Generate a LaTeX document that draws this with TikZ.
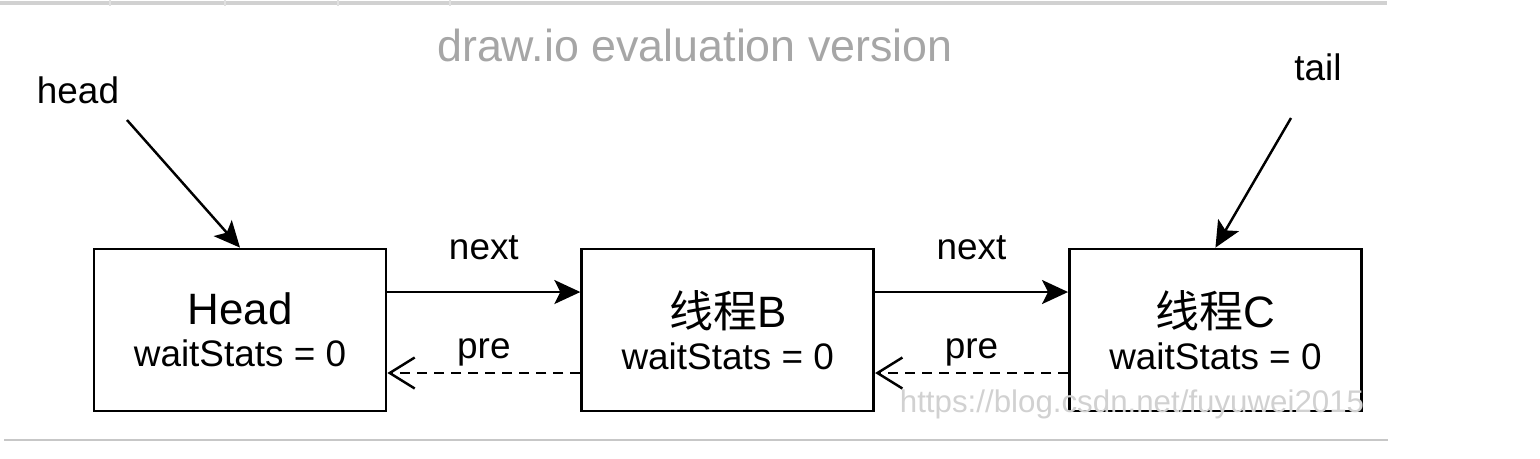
\documentclass[tikz,border=0pt]{standalone}
\usepackage{fontspec}
\setmainfont{Liberation Sans}
\newfontfamily\cjk{Noto Sans CJK SC}
\usetikzlibrary{positioning,arrows.meta}

\newcommand{\bigtxt}{\fontsize{25}{28}\selectfont}
\newcommand{\smalltxt}{\fontsize{21}{24}\selectfont}

\begin{document}
\begin{tikzpicture}[x=0.02cm,y=-0.02cm]
  \useasboundingbox (0,0) rectangle (1540,458);
  % window frame
  \draw[black!18,line width=2.4pt] (0,3) -- (1387,3);
  \foreach \sx in {110,225,338,450}
    \draw[black!12,line width=0.6pt] (\sx,0) -- (\sx,6);
  \draw[black!22,line width=1.4pt] (4,440) -- (1388,440);
  \node[text=black!35,font=\fontsize{25.5}{28}\selectfont] (drawio) at (695,45) {draw.io evaluation version};
  \begin{scope}[every node/.style={draw,line width=1.6pt,minimum width=5.84cm,minimum height=3.24cm,align=center,inner sep=0pt,font=\smalltxt}]
    \node (headNode) at (240,330) {{\bigtxt Head}\\waitStats = 0};
    \node[right=3.86cm of headNode] (nodeB) {{\bigtxt\cjk 线程\rmfamily B}\\waitStats = 0};
    \node[right=3.86cm of nodeB] (nodeC) {{\bigtxt\cjk 线程\rmfamily C}\\waitStats = 0};
  \end{scope}
  \begin{scope}[every node/.style={font=\smalltxt}]
    \node (headLabel) at (78,90) {head};
    \node (tailLabel) at (1318,67) {tail};
  \end{scope}
  \coordinate (headStart) at (127,120);
  \coordinate (tailStart) at (1291,118);
  \begin{scope}[
    line width=1.4pt,
    nextp/.style={-{Stealth[length=0.52cm,width=0.48cm,inset=0.12cm]}},
    prep/.style={dash pattern=on 5.7pt off 4pt,-{Straight Barb[length=0.5cm,width=0.62cm]}},
    ]
    \draw[nextp] (headStart) -- (headNode.north);
    \draw[nextp] (tailStart) -- (nodeC.north);
    \draw[nextp] ([yshift=0.76cm]headNode.east) -- node[above=0.5cm,font=\smalltxt]{next} ([yshift=0.76cm]nodeB.west);
    \draw[nextp] ([yshift=0.76cm]nodeB.east) -- node[above=0.5cm,font=\smalltxt]{next} ([yshift=0.76cm]nodeC.west);
    \draw[prep] ([yshift=-0.86cm]nodeB.west) -- node[above=0cm,font=\smalltxt]{pre} ([yshift=-0.86cm]headNode.east);
    \draw[prep] ([yshift=-0.86cm]nodeC.west) -- node[above=0cm,font=\smalltxt]{pre} ([yshift=-0.86cm]nodeB.east);
  \end{scope}
  \node[text=black!18,font=\fontsize{17.8}{20}\selectfont] (csdnMark) at (1132,404) {https://blog.csdn.net/fuyuwei2015};
\end{tikzpicture}
\end{document}
